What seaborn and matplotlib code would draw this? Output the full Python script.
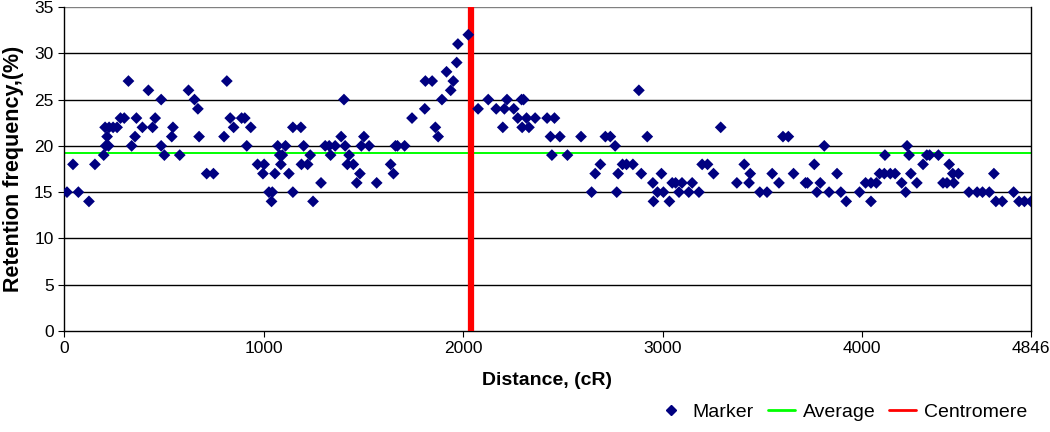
import numpy as np
import pandas as pd
import matplotlib
matplotlib.use("Agg")
import matplotlib.pyplot as plt
import seaborn as sns
from matplotlib.lines import Line2D

# marker positions (cR) and retention frequency (%)
distance = [15, 45, 72, 125, 155, 199, 209, 223, 216, 206, 226, 246, 266, 283, 302,
            323, 339, 356, 363, 393, 423, 444, 457, 487, 487, 503, 540, 546, 580, 624,
            654, 671, 677, 715, 749, 802, 816, 833, 850, 890, 906, 916, 936, 970, 997,
            1003, 1027, 1040, 1044, 1057, 1071, 1081, 1094, 1087, 1110, 1127, 1147, 1147,
            1187, 1201, 1190, 1221, 1234, 1248, 1288, 1309, 1329, 1359, 1336, 1389, 1403,
            1409, 1429, 1420, 1450, 1483, 1467, 1490, 1503, 1529, 1567, 1637, 1651, 1661,
            1671, 1707, 1744, 1808, 1811, 1845, 1861, 1875, 1894, 1917, 1938, 1951, 1968,
            1974, 2026,
            2075, 2126, 2166, 2199, 2207, 2220, 2254, 2274, 2293, 2303, 2296, 2330, 2318,
            2361, 2421, 2458, 2438, 2485, 2445, 2523, 2591, 2644, 2662, 2688, 2713, 2738,
            2762, 2770, 2777, 2799, 2819, 2851, 2881, 2893, 2923, 2951, 2954, 2974, 3004,
            2994, 3034, 3048, 3065, 3082, 3097, 3131, 3148, 3182, 3198, 3225, 3255, 3291,
            3372, 3409, 3433, 3439, 3487, 3523, 3549, 3583, 3603, 3630, 3656, 3716, 3726,
            3760, 3773, 3790, 3810, 3834, 3874, 3893, 3920, 3987, 4017, 4044, 4071, 4044,
            4087, 4111, 4141, 4165, 4114, 4198, 4218, 4225, 4235, 4244, 4274, 4305, 4324,
            4338, 4382, 4405, 4425, 4459, 4436, 4454, 4482, 4535, 4576, 4603, 4637, 4660,
            4670, 4702, 4759, 4786, 4813, 4846]
retention = [15, 18, 15, 14, 18, 19, 20, 20, 21, 22, 22, 22, 22, 23, 23,
             27, 20, 21, 23, 22, 26, 22, 23, 25, 20, 19, 21, 22, 19, 26,
             25, 24, 21, 17, 17, 21, 27, 23, 22, 23, 23, 20, 22, 18, 17,
             18, 15, 14, 15, 17, 20, 19, 19, 18, 20, 17, 22, 15,
             22, 20, 18, 18, 19, 14, 16, 20, 20, 20, 19, 21, 25,
             20, 19, 18, 18, 17, 16, 20, 21, 20, 16, 18, 17, 20,
             20, 20, 23, 24, 27, 27, 22, 21, 25, 28, 26, 27, 29,
             31, 32,
             24, 25, 24, 22, 24, 25, 24, 23, 25, 25, 22, 22, 23,
             23, 23, 23, 21, 21, 19, 19, 21, 15, 17, 18, 21, 21,
             20, 15, 17, 18, 18, 18, 26, 17, 21, 16, 14, 15, 15,
             17, 14, 16, 16, 15, 16, 15, 16, 15, 18, 18, 17, 22,
             16, 18, 16, 17, 15, 15, 17, 16, 21, 21, 17, 16, 16,
             18, 15, 16, 20, 15, 17, 15, 14, 15, 16, 16, 16, 14,
             17, 17, 17, 17, 19, 16, 15, 20, 19, 17, 16, 18, 19,
             19, 19, 16, 16, 16, 18, 17, 17, 15, 15, 15, 15, 17,
             14, 14, 15, 14, 14, 14]

average = 19.2
centromere = 2038
x_ticks = [0, 1000, 2000, 3000, 4000, 4846]
y_ticks = [0, 5, 10, 15, 20, 25, 30, 35]

df = pd.DataFrame({"Distance": distance, "Retention": retention})

sns.set_style("white")
plt.rcParams["font.family"] = ["Liberation Sans", "DejaVu Sans"]
plt.rcParams["text.color"] = "black"
plt.rcParams["axes.labelcolor"] = "black"
plt.rcParams["xtick.color"] = "black"
plt.rcParams["ytick.color"] = "black"

fig = plt.figure(figsize=(10.5, 4.32), dpi=100)
ax = fig.add_axes([64 / 1050, 1 - 331 / 432, (1031 - 64) / 1050, (331 - 7) / 432])

for y in y_ticks[1:]:
    ax.axhline(y, color="#000000" if y < 35 else "#808080", lw=1.0, zorder=1)

ax.axhline(average, color="#00ff00", lw=1.4, zorder=2)
ax.axvline(centromere, color="#ff0000", lw=4.5, zorder=3)

sns.scatterplot(data=df, x="Distance", y="Retention", marker="D", s=36,
                color="#000080", edgecolor="none", ax=ax, zorder=4, legend=False)

ax.set_xlim(0, 4846)
ax.set_ylim(0, 35)
ax.set_xticks(x_ticks)
ax.set_yticks(y_ticks)
ax.tick_params(axis="both", direction="out", length=4, width=0.8, color="#000000",
               labelsize=12.5, labelcolor="black", bottom=True, left=True)
for s in ["left", "bottom", "right"]:
    ax.spines[s].set_color("#000000")
    ax.spines[s].set_linewidth(1.0)
ax.spines["top"].set_visible(False)

ax.set_xlabel("Distance, (cR)", fontsize=14, fontweight="bold", labelpad=11)
ax.set_ylabel("Retention frequency,(%)", fontsize=15.5, fontweight="bold", labelpad=7)

handles = [
    Line2D([], [], marker="D", color="#000080", linestyle="none", markersize=5.5),
    Line2D([], [], color="#00ff00", lw=2),
    Line2D([], [], color="#ff0000", lw=2),
]
fig.legend(handles, ["Marker", "Average", "Centromere"], loc="center right",
           bbox_to_anchor=(0.995, 20 / 432), ncol=3, frameon=False, fontsize=14,
           handlelength=1.4, columnspacing=0.7, handletextpad=0.4)

fig.savefig("out.png", dpi=100)
